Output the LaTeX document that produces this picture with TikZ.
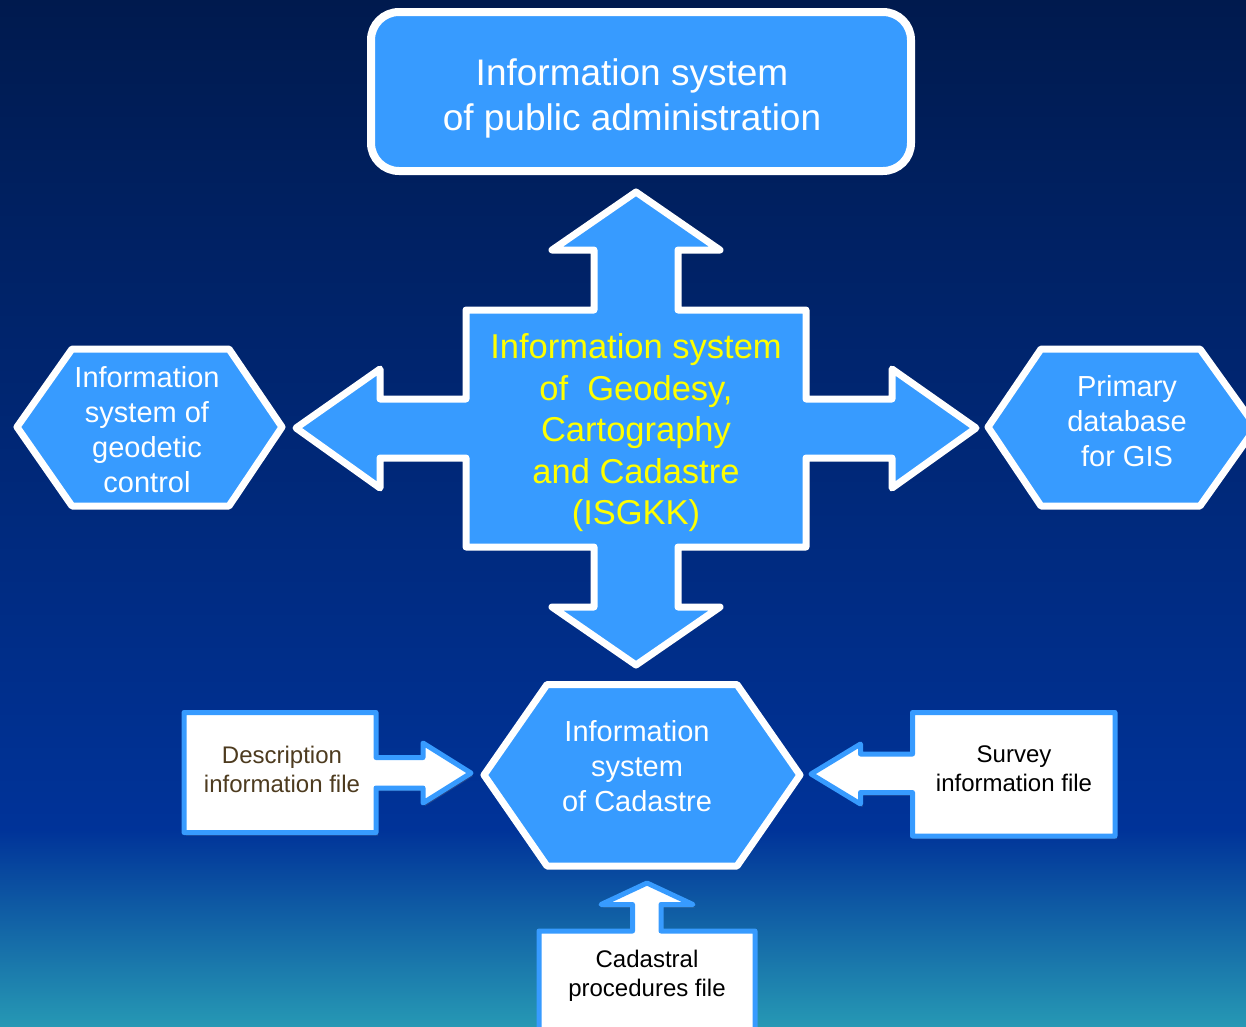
\documentclass[tikz,border=0pt]{standalone}
\usepackage{fontspec}
\setmainfont{Liberation Sans}
\usetikzlibrary{shadows}
\definecolor{navytop}{HTML}{001A4E}
\definecolor{navymid}{HTML}{003399}
\definecolor{tealbot}{HTML}{2698B4}
\definecolor{boxblue}{HTML}{379BFF}
\definecolor{labelbrown}{HTML}{4D3B1F}
\definecolor{isgkkyellow}{HTML}{FFFF00}
\begin{document}
\begin{tikzpicture}[x=1pt,y=-1pt,
  panel/.style={fill=boxblue, draw=white, line width=7pt, line join=round,
    drop shadow={opacity=0.35, shadow xshift=2pt, shadow yshift=-3pt}},
  filebox/.style={fill=white, draw=boxblue, line width=5pt, line join=round,
    drop shadow={opacity=0.3, shadow xshift=2pt, shadow yshift=-3pt}},
  lbl/.style={inner sep=0pt, align=center, text=white},
  bigtext/.style={font=\fontsize{37}{45}\selectfont},
  coretext/.style={font=\fontsize{34.5}{41.5}\selectfont, text=isgkkyellow},
  hextext/.style={font=\fontsize{29}{35}\selectfont},
  filetext/.style={font=\fontsize{24}{29}\selectfont, text=black}]

% page and background
\clip (0,0) rectangle (1246,1026);
\shade[top color=navytop, bottom color=navymid] (0,0) rectangle (1246,830.5);
\shade[top color=navymid, bottom color=tealbot] (0,830) rectangle (1246,1026);

% top: information system of public administration
\draw[panel, line width=8pt, rounded corners=28pt] (371,12) rectangle (911,171);
\node[lbl, bigtext] (pubadmin) at (632,98) {Information system\\of public administration};

% central four-way block arrow
\draw[panel] (636,192) -- (720,250) -- (678,250) -- (678,310) -- (806,310)
  -- (806,399) -- (892,399) -- (892,369) -- (976,428) -- (892,488) -- (892,458)
  -- (806,458) -- (806,547) -- (678,547) -- (678,607) -- (720,607) -- (636,665)
  -- (552,607) -- (594,607) -- (594,547) -- (466,547) -- (466,458) -- (380,458)
  -- (380,488) -- (296,428) -- (380,369) -- (380,399) -- (466,399) -- (466,310)
  -- (594,310) -- (594,250) -- (552,250) -- cycle;
\node[lbl, coretext] (isgkk) at (636,433)
  {Information system\\of~~Geodesy,\\Cartography\\and Cadastre\\(ISGKK)};

% left hexagon
\draw[panel] (17,427) -- (72,349) -- (229,349) -- (282,427) -- (229,506) -- (72,506) -- cycle;
\node[lbl, hextext] (geodetic) at (147,430) {Information\\system of\\geodetic\\control};

% right hexagon
\draw[panel] (988,427) -- (1041,349) -- (1200,349) -- (1256,427) -- (1200,506) -- (1041,506) -- cycle;
\node[lbl, hextext] (gisdb) at (1127,421) {Primary\\database\\for GIS};

% bottom hexagon
\draw[panel] (484,775) -- (547,684.5) -- (737,684.5) -- (800,775) -- (737,866) -- (547,866) -- cycle;
\node[lbl, hextext] (cadastre) at (637,766.5) {Information\\system\\of Cadastre};

% description information file
\draw[filebox] (184,712.5) -- (376,712.5) -- (376,757.5) -- (423,757.5) -- (423,743)
  -- (471,773) -- (423,803) -- (423,788) -- (376,788) -- (376,832.5) -- (184,832.5) -- cycle;
\node[lbl, filetext, text=labelbrown] (descfile) at (282,769) {Description\\information file};

% survey information file
\draw[filebox] (1115,712.5) -- (1115,836) -- (912.5,836) -- (912.5,792.5) -- (860.5,792.5)
  -- (860.5,804) -- (811,774) -- (860.5,744) -- (860.5,754) -- (912.5,754) -- (912.5,712.5) -- cycle;
\node[lbl, filetext] (surveyfile) at (1014,769) {Survey\\information file};

% cadastral procedures file
\draw[filebox] (539,931) -- (632.5,931) -- (632.5,904.5) -- (601,904.5) -- (647,883)
  -- (693,904.5) -- (661,904.5) -- (661,931) -- (755,931) -- (755,1040) -- (539,1040) -- cycle;
\node[lbl, filetext] (procfile) at (647,976) {Cadastral\\procedures file};
\end{tikzpicture}
\end{document}
